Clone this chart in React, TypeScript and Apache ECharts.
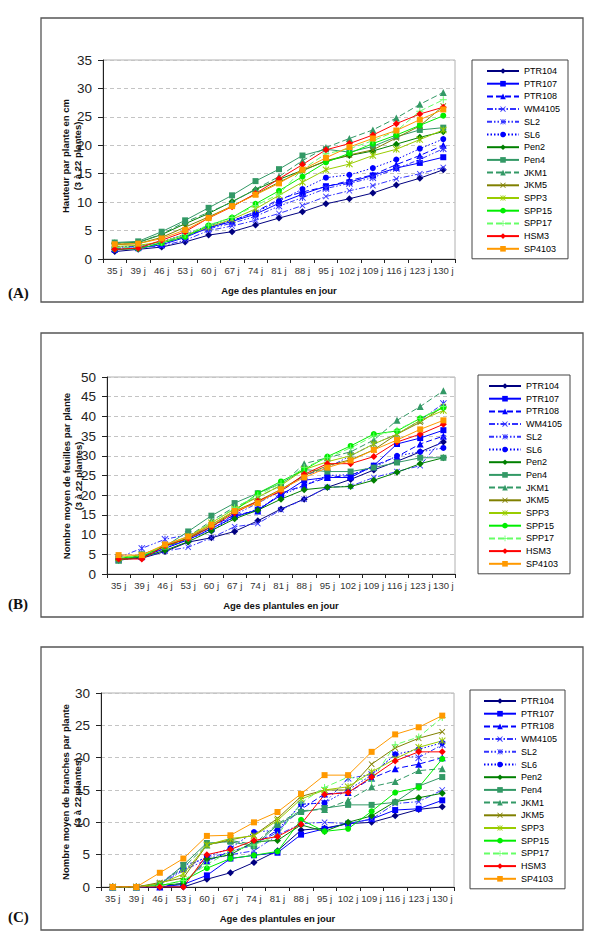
import { useEffect, useRef } from 'react';
import * as echarts from 'echarts';

// Age of the seedlings (days) — shared category axis of the three panels
const days = ['35 j', '39 j', '46 j', '53 j', '60 j', '67 j', '74 j', '81 j', '88 j', '95 j', '102 j', '109 j', '116 j', '123 j', '130 j'];

const varieties = ['PTR104', 'PTR107', 'PTR108', 'WM4105', 'SL2', 'SL6', 'Pen2', 'Pen4', 'JKM1', 'JKM5', 'SPP3', 'SPP15', 'SPP17', 'HSM3', 'SP4103'];

// (A) plant height, cm — one row per variety, same order as `varieties`
const heightCm = [
  [1.3, 1.7, 2.1, 3.0, 4.2, 4.8, 6.0, 7.2, 8.3, 9.7, 10.6, 11.6, 13.0, 14.2, 15.7],
  [1.6, 1.9, 2.5, 3.8, 5.5, 6.6, 7.9, 9.8, 11.4, 12.8, 13.5, 14.7, 16.0, 16.9, 17.9],
  [1.9, 2.1, 2.7, 4.0, 5.5, 6.7, 8.3, 10.5, 11.8, 12.7, 13.8, 14.8, 16.6, 18.2, 20.0],
  [1.8, 2.0, 2.3, 3.3, 5.0, 5.8, 6.8, 8.0, 9.4, 11.0, 12.0, 12.9, 14.1, 15.0, 16.1],
  [2.2, 2.2, 2.9, 4.2, 5.3, 6.3, 7.5, 9.3, 10.8, 12.4, 13.3, 14.3, 15.9, 17.5, 19.4],
  [2.0, 2.3, 3.0, 4.4, 5.8, 6.8, 8.2, 10.2, 12.3, 14.3, 14.8, 16.0, 17.5, 19.4, 21.1],
  [2.8, 2.9, 4.3, 6.2, 8.0, 10.1, 12.2, 14.0, 15.6, 17.2, 18.2, 19.0, 20.2, 21.4, 22.4],
  [2.9, 3.1, 4.8, 6.8, 9.0, 11.2, 13.7, 15.8, 18.2, 19.3, 18.8, 19.8, 21.5, 22.7, 23.1],
  [2.7, 2.9, 4.4, 6.5, 8.2, 10.0, 12.3, 14.5, 17.3, 19.6, 21.2, 22.7, 24.8, 27.2, 29.3],
  [2.5, 2.7, 3.8, 5.6, 7.4, 9.3, 11.4, 13.5, 15.5, 17.3, 18.3, 19.2, 21.3, 23.4, 26.9],
  [2.2, 2.4, 3.0, 4.2, 5.6, 7.0, 8.8, 11.2, 13.5, 15.7, 16.7, 18.2, 19.3, 21.0, 22.7],
  [1.7, 1.8, 2.8, 3.9, 5.9, 7.3, 9.7, 12.0, 14.5, 17.0, 18.6, 20.3, 21.8, 23.5, 25.2],
  [2.0, 2.1, 3.0, 4.3, 6.0, 7.3, 9.4, 11.4, 15.8, 18.5, 19.4, 20.8, 22.5, 26.0, 28.0],
  [1.7, 1.9, 3.3, 4.8, 7.2, 9.2, 11.5, 14.1, 16.6, 19.2, 20.3, 21.8, 23.8, 25.5, 26.7],
  [2.6, 2.7, 3.6, 5.1, 7.2, 9.3, 11.3, 13.3, 15.7, 17.8, 19.7, 21.2, 22.6, 24.5, 26.3],
];

// (B) mean number of leaves per plant
const leafCount = [
  [3.8, 4.0, 5.7, 8.1, 9.2, 10.8, 13.5, 16.5, 19.0, 22.0, 24.0, 26.4, 28.6, 31.0, 33.5],
  [4.0, 4.3, 6.5, 8.7, 11.5, 14.5, 16.3, 20.0, 23.8, 24.5, 24.5, 27.5, 33.0, 34.5, 36.5],
  [3.8, 4.5, 6.8, 9.0, 12.0, 15.0, 16.0, 20.5, 22.5, 24.5, 25.0, 27.5, 29.8, 33.0, 35.0],
  [3.5, 4.2, 5.8, 6.8, 9.2, 12.0, 12.8, 16.3, 19.0, 22.0, 22.3, 24.5, 26.0, 27.5, 34.6],
  [4.2, 6.5, 8.8, 10.0, 11.5, 15.0, 18.0, 21.0, 25.0, 27.0, 30.0, 33.0, 35.5, 39.0, 43.3],
  [4.0, 4.5, 6.5, 8.8, 11.0, 14.5, 16.5, 20.0, 22.5, 25.0, 25.2, 27.0, 30.0, 31.0, 32.0],
  [3.5, 4.3, 6.0, 8.2, 11.0, 14.0, 16.2, 19.0, 21.4, 22.0, 22.2, 23.8, 25.8, 28.0, 29.5],
  [3.7, 5.0, 7.0, 10.8, 14.8, 18.0, 20.5, 23.0, 26.5, 26.0, 26.0, 27.0, 28.3, 29.5, 29.5],
  [3.5, 4.8, 7.0, 9.5, 13.5, 17.0, 19.5, 22.5, 28.0, 29.5, 31.0, 34.0, 39.0, 42.5, 46.5],
  [3.9, 4.6, 7.0, 9.2, 12.5, 16.0, 18.5, 21.5, 25.0, 27.5, 29.0, 31.5, 35.5, 38.5, 42.5],
  [4.2, 4.8, 7.3, 9.5, 13.0, 16.5, 19.5, 22.5, 26.5, 28.5, 30.0, 33.0, 35.5, 39.0, 41.5],
  [4.0, 4.5, 7.0, 9.0, 12.0, 16.0, 20.5, 23.5, 26.5, 29.8, 32.5, 35.5, 36.3, 39.5, 42.2],
  [4.1, 4.7, 7.2, 9.4, 12.8, 16.8, 20.0, 23.0, 27.0, 29.5, 32.0, 35.0, 36.5, 39.5, 42.5],
  [3.8, 3.8, 7.2, 9.0, 12.0, 15.5, 18.5, 21.0, 25.3, 28.0, 28.0, 29.8, 33.5, 35.5, 38.0],
  [4.8, 4.8, 7.5, 9.5, 12.5, 16.0, 18.0, 21.5, 24.5, 27.0, 28.8, 31.5, 34.0, 36.7, 39.0],
];

// (C) mean number of branches per plant
const branchCount = [
  [0, 0, 0, 0, 1.2, 2.2, 3.8, 5.6, 8.8, 9.1, 9.8, 10.0, 11.0, 12.0, 12.4],
  [0, 0, 0, 0.4, 1.8, 4.4, 4.9, 5.3, 8.1, 9.0, 9.8, 10.5, 11.9, 12.1, 13.4],
  [0, 0, 0, 0.6, 4.0, 5.5, 6.5, 8.8, 12.0, 14.4, 14.6, 16.8, 18.3, 19.0, 20.0],
  [0, 0, 0.3, 2.6, 4.2, 5.0, 5.6, 8.0, 9.8, 10.0, 9.8, 10.5, 12.9, 13.2, 15.0],
  [0, 0, 0.5, 3.3, 4.5, 5.4, 6.7, 8.4, 12.8, 13.0, 16.8, 17.4, 20.5, 20.0, 22.0],
  [0, 0, 0.5, 2.8, 4.7, 6.0, 8.5, 8.8, 12.8, 13.0, 15.0, 17.3, 20.5, 21.3, 22.3],
  [0, 0, 0.3, 0.5, 4.3, 5.0, 7.0, 7.2, 9.6, 8.6, 10.0, 11.0, 13.2, 13.8, 14.5],
  [0, 0, 0.3, 3.4, 6.8, 7.0, 6.3, 9.6, 11.6, 12.2, 12.7, 12.7, 13.1, 15.6, 17.0],
  [0, 0, 0.5, 3.0, 6.5, 7.2, 6.6, 9.8, 11.8, 12.0, 13.4, 15.5, 16.3, 18.0, 18.3],
  [0, 0, 0.7, 1.4, 6.5, 7.3, 8.0, 10.6, 14.0, 15.0, 15.0, 19.0, 21.5, 23.0, 24.0],
  [0, 0, 0.5, 2.0, 6.5, 7.5, 7.9, 10.3, 13.6, 15.0, 15.5, 17.8, 19.8, 21.6, 22.6],
  [0, 0, 0.2, 1.0, 2.9, 4.4, 4.9, 5.5, 10.4, 8.6, 9.0, 11.7, 14.6, 15.4, 19.8],
  [0, 0, 0.2, 1.0, 3.5, 5.5, 6.5, 8.0, 13.0, 15.4, 17.0, 16.4, 22.0, 23.2, 26.2],
  [0, 0, 0, 0, 5.0, 5.8, 7.2, 7.8, 9.7, 14.3, 14.6, 17.0, 19.5, 20.9, 20.9],
  [0, 0, 2.2, 4.4, 7.9, 8.0, 10.0, 11.6, 14.4, 17.3, 17.3, 20.9, 23.6, 24.7, 26.5],
];

// Marker glyphs not provided by ECharts
const X_MARK = 'path://M0,1L1,0L5,4L9,0L10,1L6,5L10,9L9,10L5,6L1,10L0,9L4,5Z';
const PLUS_MARK = 'path://M4.3,0H5.7V4.3H10V5.7H5.7V10H4.3V5.7H0V4.3H4.3Z';
const STAR_MARK = 'path://M0,1L1,0L5,4L9,0L10,1L6,5L10,9L9,10L5,6L1,10L0,9L4,5Z M4.3,0H5.7V10H4.3Z';

type Look = { color: string; symbol: string; size: number; dash: any };
const looks: Look[] = [
  { color: '#000080', symbol: 'diamond', size: 7, dash: 'solid' },
  { color: '#0000FF', symbol: 'rect', size: 6, dash: 'solid' },
  { color: '#0000FF', symbol: 'triangle', size: 7, dash: [6, 3] },
  { color: '#3333FF', symbol: X_MARK, size: 6, dash: [6, 2, 1.5, 2] },
  { color: '#3333FF', symbol: STAR_MARK, size: 7, dash: [5, 2, 1.5, 2, 1.5, 2] },
  { color: '#0000FF', symbol: 'circle', size: 6, dash: [1.5, 2] },
  { color: '#008000', symbol: 'diamond', size: 7, dash: 'solid' },
  { color: '#339966', symbol: 'rect', size: 6, dash: 'solid' },
  { color: '#339966', symbol: 'triangle', size: 7, dash: [6, 3] },
  { color: '#808000', symbol: X_MARK, size: 6, dash: 'solid' },
  { color: '#99CC00', symbol: STAR_MARK, size: 7, dash: 'solid' },
  { color: '#00EE00', symbol: 'circle', size: 6, dash: 'solid' },
  { color: '#66FF66', symbol: PLUS_MARK, size: 7, dash: [6, 3] },
  { color: '#FF0000', symbol: 'diamond', size: 7, dash: 'solid' },
  { color: '#FF9900', symbol: 'rect', size: 6, dash: 'solid' },
];

const FONT = 'Liberation Sans, Arial, sans-serif';

const panels = [
  {
    tag: '(A)', data: heightCm, max: 35,
    grid: { left: 103, top: 60, width: 352, height: 199 },
    box: { x: 41, y: 18, width: 542, height: 284 },
    legend: { left: 472, top: 60, padLeft: 14 },
    yName: ['Hauteur par plante en cm', '(3 à 22 plantes)'], yNameX: 65, yNameY: 156,
    xNameY: 290, tagY: 293,
  },
  {
    tag: '(B)', data: leafCount, max: 50,
    grid: { left: 107, top: 377, width: 348, height: 197 },
    box: { x: 41, y: 333, width: 542, height: 284 },
    legend: { left: 478, top: 375, padLeft: 10 },
    yName: ['Nombre moyen de feuilles par plante', '(3 à 22 plantes)'], yNameX: 66, yNameY: 476,
    xNameY: 605, tagY: 604,
  },
  {
    tag: '(C)', data: branchCount, max: 30,
    grid: { left: 101, top: 693, width: 353, height: 194 },
    box: { x: 41, y: 647, width: 542, height: 283 },
    legend: { left: 470, top: 690, padLeft: 13 },
    yName: ['Nombre moyen de branches par plante', '(3 à 22 plantes)'], yNameX: 65, yNameY: 792,
    xNameY: 918, tagY: 917,
  },
];

function label(text: string, x: number, y: number, font: string, rotation = 0, align = 'center') {
  return {
    type: 'text', x, y, rotation, silent: true,
    style: { text, font, fill: '#111', align, verticalAlign: 'middle' },
  };
}

function buildOption() {
  const grid = panels.map((p) => ({
    ...p.grid, show: true, borderColor: '#b0b0b0', borderWidth: 1, backgroundColor: '#fff', containLabel: false,
  }));
  const xAxis = panels.map((_, i) => ({
    type: 'category', gridIndex: i, data: days, boundaryGap: true,
    axisLine: { lineStyle: { color: '#222', width: 1 } },
    axisTick: { show: true, length: 4, lineStyle: { color: '#222' } },
    axisLabel: { interval: 0, fontSize: 9.5, color: '#333', fontFamily: FONT, margin: 6 },
    splitLine: { show: false },
  }));
  const yAxis = panels.map((p, i) => ({
    type: 'value', gridIndex: i, min: 0, max: p.max, interval: 5,
    axisLine: { show: true, lineStyle: { color: '#222', width: 1 } },
    axisTick: { show: true, length: 5, lineStyle: { color: '#222' } },
    axisLabel: { fontSize: 13.5, color: '#222', fontFamily: FONT, margin: 11 },
    splitLine: { show: true, lineStyle: { color: '#c4c4c4', type: [4, 3], width: 1 } },
  }));
  const series: any[] = [];
  panels.forEach((p, pi) => {
    varieties.forEach((name, vi) => {
      const lk = looks[vi];
      series.push({
        type: 'line', name, xAxisIndex: pi, yAxisIndex: pi, data: p.data[vi],
        symbol: lk.symbol, symbolSize: lk.size, showSymbol: true,
        lineStyle: { color: lk.color, width: 1, type: lk.dash },
        itemStyle: { color: lk.color, borderColor: lk.color, borderWidth: 0 },
        emphasis: { disabled: true }, silent: true,
      });
    });
  });
  const legend = panels.map((p) => ({
    show: true, orient: 'vertical', left: p.legend.left, top: p.legend.top,
    data: varieties, selectedMode: false,
    itemWidth: 32, itemHeight: 7, itemGap: 0.7,
    padding: [5, 8, 4, p.legend.padLeft],
    borderColor: '#444', borderWidth: 1, backgroundColor: '#fff',
    textStyle: { fontSize: 9, fontFamily: FONT, color: '#000', lineHeight: 12 },
  }));
  const graphic: any[] = [];
  const nameFont = `bold 9.5px ${FONT}`;
  panels.forEach((p) => {
    graphic.push({
      type: 'rect', z: -10, shape: p.box, silent: true,
      style: { fill: '#fff', stroke: '#555', lineWidth: 1.3 },
    });
    graphic.push(label(p.tag, 8, p.tagY, 'bold 15px Liberation Serif, serif', 0, 'left'));
    graphic.push(label(p.yName[0], p.yNameX, p.yNameY, nameFont, Math.PI / 2));
    graphic.push(label(p.yName[1], p.yNameX + 12, p.yNameY, nameFont, Math.PI / 2));
    graphic.push(label('Age des plantules en jour', p.grid.left + p.grid.width / 2, p.xNameY, nameFont));
  });
  return { animation: false, backgroundColor: '#fff', grid, xAxis, yAxis, series, legend, graphic };
}

export default function App() {
  const ref = useRef<HTMLDivElement>(null);
  useEffect(() => {
    const chart = echarts.init(ref.current!, null, { renderer: 'svg' });
    chart.setOption(buildOption() as any);
    return () => chart.dispose();
  }, []);
  return (
    <div
      ref={ref}
      style={{ position: 'absolute', left: 0, top: 0, width: 590, height: 942, background: '#fff' }}
    />
  );
}
